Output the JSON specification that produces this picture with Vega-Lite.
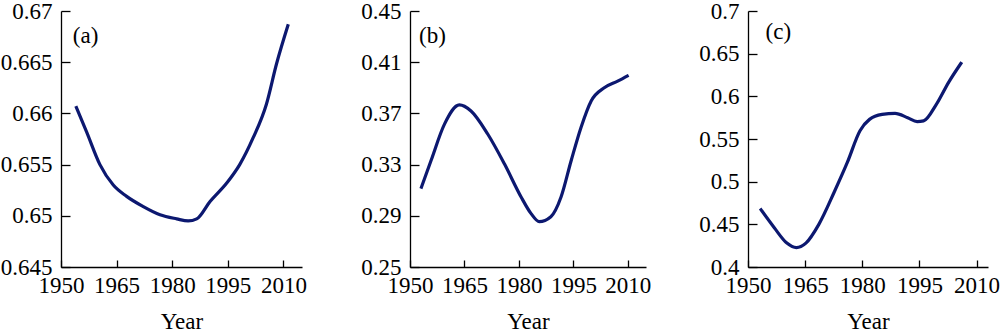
{
  "$schema": "https://vega.github.io/schema/vega-lite/v6.json",
  "padding": {"left": 0, "top": 0, "right": 0, "bottom": 0},
  "background": "white",
  "config": {
    "view": {"stroke": null},
    "font": "Liberation Serif",
    "axis": {
      "grid": false,
      "domainColor": "black",
      "domainWidth": 1.3,
      "tickColor": "black",
      "tickWidth": 1.3,
      "labelColor": "black",
      "labelFont": "Liberation Serif",
      "labelFontSize": 23,
      "titleFont": "Liberation Serif",
      "titleFontSize": 23,
      "titleFontWeight": "normal",
      "titleColor": "black",
      "labelFlush": false,
      "labelOverlap": false
    },
    "axisX": {"tickSize": -7, "labelPadding": 14, "titlePadding": 13},
    "axisY": {"tickSize": -9, "labelPadding": 18},
    "text": {"fontWeight": "normal"}
  },
  "spacing": 53,
  "hconcat": [
    {
      "width": 241,
      "height": 256,
      "layer": [
        {
          "data": {"values": [
            {"year": 1954.0, "value": 0.6607},
            {"year": 1956.9, "value": 0.6582},
            {"year": 1960.5, "value": 0.6550},
            {"year": 1964.1, "value": 0.6530},
            {"year": 1967.7, "value": 0.6519},
            {"year": 1972.2, "value": 0.6509},
            {"year": 1976.7, "value": 0.6501},
            {"year": 1981.2, "value": 0.6497},
            {"year": 1984.3, "value": 0.6495},
            {"year": 1986.6, "value": 0.6497},
            {"year": 1990.2, "value": 0.6514},
            {"year": 1994.7, "value": 0.6532},
            {"year": 1998.2, "value": 0.6550},
            {"year": 2001.8, "value": 0.6576},
            {"year": 2005.4, "value": 0.6609},
            {"year": 2008.1, "value": 0.6648},
            {"year": 2011.3, "value": 0.6687}
          ]},
          "mark": {"type": "line", "color": "#0c1870", "strokeWidth": 3.2, "interpolate": "monotone"},
          "encoding": {
            "x": {"field": "year", "type": "quantitative", "scale": {"domain": [1950, 2015], "nice": false, "zero": false}, "axis": {"values": [1950, 1965, 1980, 1995, 2010], "format": "d", "title": "Year"}},
            "y": {"field": "value", "type": "quantitative", "scale": {"domain": [0.645, 0.67], "nice": false, "zero": false}, "axis": {"values": [0.645, 0.65, 0.655, 0.66, 0.665, 0.67], "format": ".3~f", "title": null}}
          }
        },
        {
          "data": {"values": [{"label": "(a)", "year": 1953.2, "value": 0.6669}]},
          "mark": {"type": "text", "align": "left", "baseline": "alphabetic", "fontSize": 23, "fontWeight": "normal", "font": "Liberation Serif", "color": "black"},
          "encoding": {"text": {"field": "label"}, "x": {"field": "year", "type": "quantitative"}, "y": {"field": "value", "type": "quantitative"}}
        }
      ]
    },
    {
      "spacing": 47,
      "hconcat": [
        {
          "width": 236,
          "height": 256,
          "layer": [
            {
              "data": {"values": [
                {"year": 1953.0, "value": 0.3112},
                {"year": 1955.8, "value": 0.3332},
                {"year": 1959.5, "value": 0.3616},
                {"year": 1963.6, "value": 0.3766},
                {"year": 1966.8, "value": 0.3719},
                {"year": 1971.4, "value": 0.3539},
                {"year": 1976.0, "value": 0.3306},
                {"year": 1980.6, "value": 0.3047},
                {"year": 1983.3, "value": 0.2919},
                {"year": 1985.6, "value": 0.2854},
                {"year": 1988.8, "value": 0.2893},
                {"year": 1991.6, "value": 0.3047},
                {"year": 1994.4, "value": 0.3332},
                {"year": 1997.1, "value": 0.3590},
                {"year": 1999.9, "value": 0.3797},
                {"year": 2003.5, "value": 0.3900},
                {"year": 2007.2, "value": 0.3952},
                {"year": 2010.2, "value": 0.3998}
              ]},
              "mark": {"type": "line", "color": "#0c1870", "strokeWidth": 3.2, "interpolate": "monotone"},
              "encoding": {
                "x": {"field": "year", "type": "quantitative", "scale": {"domain": [1950, 2015], "nice": false, "zero": false}, "axis": {"values": [1950, 1965, 1980, 1995, 2010], "format": "d", "title": "Year"}},
                "y": {"field": "value", "type": "quantitative", "scale": {"domain": [0.25, 0.45], "nice": false, "zero": false}, "axis": {"values": [0.25, 0.29, 0.33, 0.37, 0.41, 0.45], "format": ".2f", "title": null}}
              }
            },
            {
              "data": {"values": [{"label": "(b)", "year": 1952.5, "value": 0.4247}]},
              "mark": {"type": "text", "align": "left", "baseline": "alphabetic", "fontSize": 23, "fontWeight": "normal", "font": "Liberation Serif", "color": "black"},
              "encoding": {"text": {"field": "label"}, "x": {"field": "year", "type": "quantitative"}, "y": {"field": "value", "type": "quantitative"}}
            }
          ]
        },
        {
          "width": 240,
          "height": 256,
          "layer": [
            {
              "data": {"values": [
                {"year": 1953.2, "value": 0.4685},
                {"year": 1956.9, "value": 0.4460},
                {"year": 1960.2, "value": 0.4280},
                {"year": 1962.7, "value": 0.4227},
                {"year": 1965.2, "value": 0.4280},
                {"year": 1968.6, "value": 0.4500},
                {"year": 1972.7, "value": 0.4885},
                {"year": 1976.1, "value": 0.5228},
                {"year": 1979.4, "value": 0.5597},
                {"year": 1981.9, "value": 0.5730},
                {"year": 1985.2, "value": 0.5788},
                {"year": 1988.6, "value": 0.5800},
                {"year": 1991.9, "value": 0.5750},
                {"year": 1994.4, "value": 0.5704},
                {"year": 1996.1, "value": 0.5712},
                {"year": 1999.4, "value": 0.5903},
                {"year": 2002.7, "value": 0.6167},
                {"year": 2006.1, "value": 0.6400}
              ]},
              "mark": {"type": "line", "color": "#0c1870", "strokeWidth": 3.2, "interpolate": "monotone"},
              "encoding": {
                "x": {"field": "year", "type": "quantitative", "scale": {"domain": [1950, 2013], "nice": false, "zero": false}, "axis": {"values": [1950, 1965, 1980, 1995, 2010], "format": "d", "title": "Year"}},
                "y": {"field": "value", "type": "quantitative", "scale": {"domain": [0.4, 0.7], "nice": false, "zero": false}, "axis": {"values": [0.4, 0.45, 0.5, 0.55, 0.6, 0.65, 0.7], "format": ".2~f", "title": null}}
              }
            },
            {
              "data": {"values": [{"label": "(c)", "year": 1954.6, "value": 0.6677}]},
              "mark": {"type": "text", "align": "left", "baseline": "alphabetic", "fontSize": 23, "fontWeight": "normal", "font": "Liberation Serif", "color": "black"},
              "encoding": {"text": {"field": "label"}, "x": {"field": "year", "type": "quantitative"}, "y": {"field": "value", "type": "quantitative"}}
            }
          ]
        }
      ]
    }
  ]
}
